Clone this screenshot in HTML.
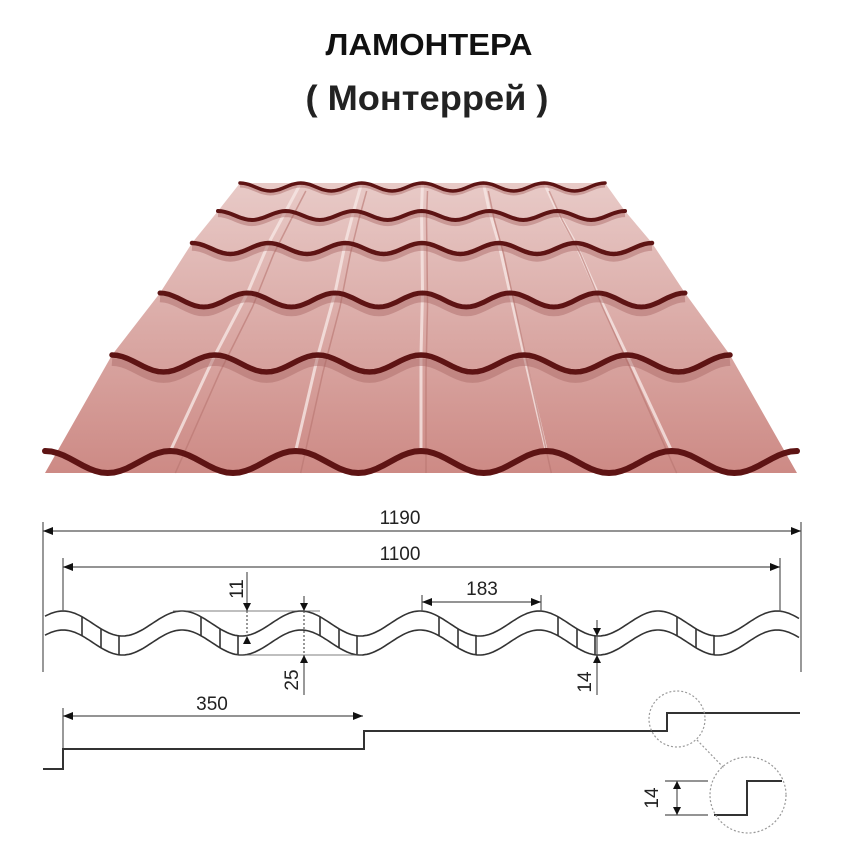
<!DOCTYPE html>
<html><head><meta charset="utf-8"><style>
html,body{margin:0;padding:0;background:#fff;width:860px;height:852px;overflow:hidden}
svg{display:block}
</style></head><body>
<svg id="s" width="860" height="852" viewBox="0 0 860 852" xmlns="http://www.w3.org/2000/svg" font-family="Liberation Sans, sans-serif">
<defs>
<linearGradient id="g" x1="0" y1="0" x2="0" y2="1">
<stop offset="0" stop-color="#e8cac7"/><stop offset="1" stop-color="#cd8a85"/>
</linearGradient>
</defs>
<text x="429" y="55" text-anchor="middle" font-size="31" font-weight="bold" fill="#111" textLength="207" lengthAdjust="spacingAndGlyphs">ЛАМОНТЕРА</text>
<text x="427" y="110" text-anchor="middle" font-size="35" font-weight="bold" fill="#222" textLength="243" lengthAdjust="spacingAndGlyphs">( Монтеррей )</text>
<g id="roof"></g>
<g id="prof" fill="none" stroke="#333" stroke-width="1.6"></g>
<g stroke="#555" stroke-width="1.2" fill="none">
<line x1="43" y1="522" x2="43" y2="672"/>
<line x1="801" y1="522" x2="801" y2="672"/>
<line x1="43" y1="531" x2="801" y2="531"/>
<line x1="63" y1="558" x2="63" y2="612"/>
<line x1="780" y1="558" x2="780" y2="612"/>
<line x1="63" y1="567" x2="780" y2="567"/>
<line x1="422" y1="595" x2="422" y2="612"/>
<line x1="541" y1="595" x2="541" y2="612"/>
<line x1="422" y1="602" x2="541" y2="602"/>
<line x1="173" y1="611" x2="320" y2="611" stroke-width="0.8"/>
<line x1="237" y1="655" x2="362" y2="655" stroke-width="0.8"/>
<line x1="247" y1="572" x2="247" y2="611"/>
<line x1="247" y1="611" x2="247" y2="636" stroke-dasharray="2 2"/>
<line x1="304" y1="596" x2="304" y2="611"/>
<line x1="304" y1="611" x2="304" y2="655" stroke-dasharray="2 2"/>
<line x1="304" y1="655" x2="304" y2="695"/>
<line x1="597" y1="620" x2="597" y2="695"/>
<line x1="63" y1="708" x2="63" y2="750"/>
<line x1="63" y1="716" x2="363" y2="716"/>
<line x1="665" y1="781" x2="708" y2="781"/>
<line x1="665" y1="815" x2="708" y2="815"/>
<line x1="677" y1="781" x2="677" y2="815"/>
</g>
<g fill="#111">
<polygon points="43,531 53,527 53,535"/><polygon points="801,531 791,527 791,535"/>
<polygon points="63,567 73,563 73,571"/><polygon points="780,567 770,563 770,571"/>
<polygon points="422,602 432,598 432,606"/><polygon points="541,602 531,598 531,606"/>
<polygon points="247,611 243,603 251,603"/><polygon points="247,636 243,644 251,644"/>
<polygon points="304,611 300,603 308,603"/><polygon points="304,655 300,663 308,663"/>
<polygon points="597,636 593,628 601,628"/><polygon points="597,655 593,663 601,663"/>
<polygon points="63,716 73,712 73,720"/><polygon points="363,716 353,712 353,720"/>
<polygon points="677,781 673,789 681,789"/><polygon points="677,815 673,807 681,807"/>
</g>
<g font-size="19" fill="#222">
<text x="400" y="524" text-anchor="middle">1190</text>
<text x="400" y="560" text-anchor="middle">1100</text>
<text x="482" y="595" text-anchor="middle">183</text>
<text x="212" y="710" text-anchor="middle">350</text>
<text transform="translate(243,589) rotate(-90)" text-anchor="middle">11</text>
<text transform="translate(298,680) rotate(-90)" text-anchor="middle">25</text>
<text transform="translate(591,682) rotate(-90)" text-anchor="middle">14</text>
<text transform="translate(658,798) rotate(-90)" text-anchor="middle">14</text>
</g>
<g fill="none" stroke="#333" stroke-width="2">
<polyline points="43,769 63,769 63,749 364,749 364,731 667,731 667,713 800,713"/>
<polyline points="714,815 747,815 747,781 782,781"/>
</g>
<g fill="none" stroke="#999" stroke-width="1.2" stroke-dasharray="2 2">
<circle cx="677" cy="719" r="28"/>
<circle cx="748" cy="795" r="38"/>
<line x1="697" y1="740" x2="724" y2="768"/>
</g>
</svg>
<script>
(function(){
var NS="http://www.w3.org/2000/svg";
function el(p,t,a){var e=document.createElementNS(NS,t);for(var k in a)e.setAttribute(k,a[k]);p.appendChild(e);return e;}
var roof=document.getElementById('roof');
var rows=[[240,605,183],[218,625,211],[192,652,243],[160,685,293],[112,730,355],[45,797,451]];
var amps=[8,9,11,14,17,22];
var pts=[];
rows.forEach(function(r,i){pts.push(r[0]+','+(r[2]+(i==5?amps[i]:0)));});
for(var i=rows.length-1;i>=0;i--)pts.push(rows[i][1]+','+(rows[i][2]+(i==5?amps[i]:0)));
el(roof,'polygon',{points:pts.join(' '),fill:'url(#g)'});
for(var c=1;c<6;c++){
 var d='';
 rows.forEach(function(r,i){var x=r[0]+(r[1]-r[0])*c/6;d+=(i?'L':'M')+x+','+r[2];});
 el(roof,'path',{d:d,fill:'none',stroke:'#f6e6e4','stroke-width':3,opacity:0.8});
 var d2='';
 rows.forEach(function(r,i){var x=r[0]+(r[1]-r[0])*c/6+5;d2+=(i?'L':'M')+x+','+(r[2]+amps[i]);});
 el(roof,'path',{d:d2,fill:'none',stroke:'#b87570','stroke-width':1.5,opacity:0.6});
}
rows.forEach(function(r,i){
 var A=amps[i],d='',w=r[1]-r[0];
 for(var k=0;k<=120;k++){var t=k/120;var x=r[0]+w*t;var y=r[2]+A*(1-Math.cos(2*Math.PI*t*6))/2;d+=(k?'L':'M')+x.toFixed(1)+','+y.toFixed(1);}
 if(i<5) el(roof,'path',{d:d,fill:'none',stroke:'#a96763','stroke-width':3+i*1.2,opacity:0.45,transform:'translate(0,'+(3+i)+')'});
 el(roof,'path',{d:d,fill:'none',stroke:'#5e1414','stroke-width':3.5+i*0.5,'stroke-linecap':'round'});
});
var prof=document.getElementById('prof');
function yu(x){return 623.5-12.5*Math.cos(2*Math.PI*(x-63)/119);}
var du='',dl='';
for(var x=45;x<=800;x+=2){du+=(x==45?'M':'L')+x+','+yu(x).toFixed(1);dl+=(x==45?'M':'L')+x+','+(yu(x)+19).toFixed(1);}
el(prof,'path',{d:du});el(prof,'path',{d:dl});
for(var c=0;c<6;c++){var cx=63+119*c;[19,38,56].forEach(function(o){var x=cx+o;el(prof,'line',{x1:x,y1:yu(x),x2:x,y2:yu(x)+19});});}
})();
</script>
</body></html>
